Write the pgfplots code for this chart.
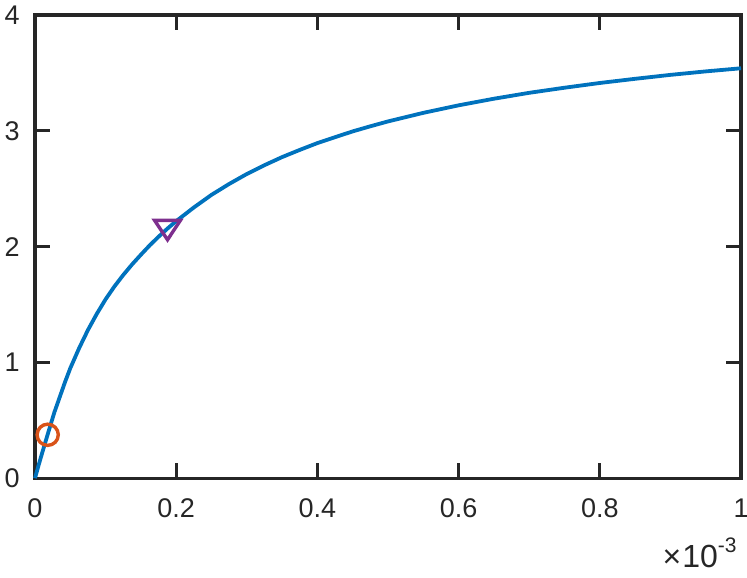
\documentclass[border=0pt]{standalone}
\usepackage{fontspec}
\setmainfont{Liberation Sans}
\usepackage{pgfplots}
\pgfplotsset{compat=1.18}

\definecolor{mblue}{HTML}{0072BD}
\definecolor{morange}{HTML}{D95319}
\definecolor{mpurple}{HTML}{7E2F8E}
\definecolor{maxis}{HTML}{262626}

\begin{document}
\begin{tikzpicture}
\begin{axis}[
    name=ax,
    scale only axis,
    width=353bp, height=231.6bp,
    xmin=0, xmax=1, ymin=0, ymax=4,
    xtick={0,0.2,0.4,0.6,0.8,1},
    xticklabels={0,0.2,0.4,0.6,0.8,1},
    ytick={0,1,2,3,4},
    yticklabels={0,1,2,3,4},
    tick align=inside,
    major tick length=7.5bp,
    axis line style={maxis, line width=1.6bp},
    tick style={maxis, line width=1.6bp},
    tick label style={font=\fontsize{13.5bp}{16bp}\selectfont, text=maxis},
    xticklabel style={inner sep=0pt, yshift=-10bp},
    yticklabel style={inner sep=0pt, xshift=-7.5bp},
    clip=false,
]

% curve (x in units of 1e-3)
\addplot[mblue, line width=1.9bp, mark=none, line join=round] coordinates {
    (0,0) (0.005,0.11) (0.01,0.215) (0.02,0.42) (0.0275,0.57) (0.035,0.70)
    (0.0425,0.83) (0.05,0.95) (0.0625,1.123) (0.075,1.28) (0.0875,1.419)
    (0.1,1.545) (0.1125,1.656) (0.125,1.755) (0.1375,1.846) (0.15,1.93)
    (0.1625,2.011) (0.175,2.085) (0.1875,2.155) (0.2,2.22) (0.225,2.338)
    (0.25,2.447) (0.275,2.541) (0.3,2.627) (0.325,2.703) (0.35,2.773)
    (0.375,2.835) (0.4,2.894) (0.425,2.945) (0.45,2.995) (0.475,3.039)
    (0.5,3.081) (0.55,3.155) (0.6,3.22) (0.65,3.277) (0.7,3.328)
    (0.75,3.372) (0.8,3.413) (0.85,3.449) (0.9,3.483) (0.95,3.513) (1.0,3.54)
};

% circle marker
\addplot[only marks, mark=o, mark size=5.3bp, morange, line width=1.7bp] coordinates {
    (0.018,0.375)
};

% triangle marker
\addplot[only marks, mark=triangle, mark size=6.5bp, mpurple, line width=1.7bp,
    mark options={rotate=180, xscale=1.15}] coordinates {
    (0.1877,2.171)
};
\end{axis}

\node[anchor=base east, inner sep=0pt, text=maxis, font=\fontsize{16bp}{19bp}\selectfont]
    at ([xshift=-2bp, yshift=-44.5bp]ax.south east)
    {×\kern0.5bp10\raisebox{7.5bp}{\fontsize{10.5bp}{12bp}\selectfont -3}};

\pgfresetboundingbox
\path ([xshift=-17.5bp, yshift=-49.85bp]ax.south west) rectangle ([xshift=3bp, yshift=7.5bp]ax.north east);
\end{tikzpicture}
\end{document}
